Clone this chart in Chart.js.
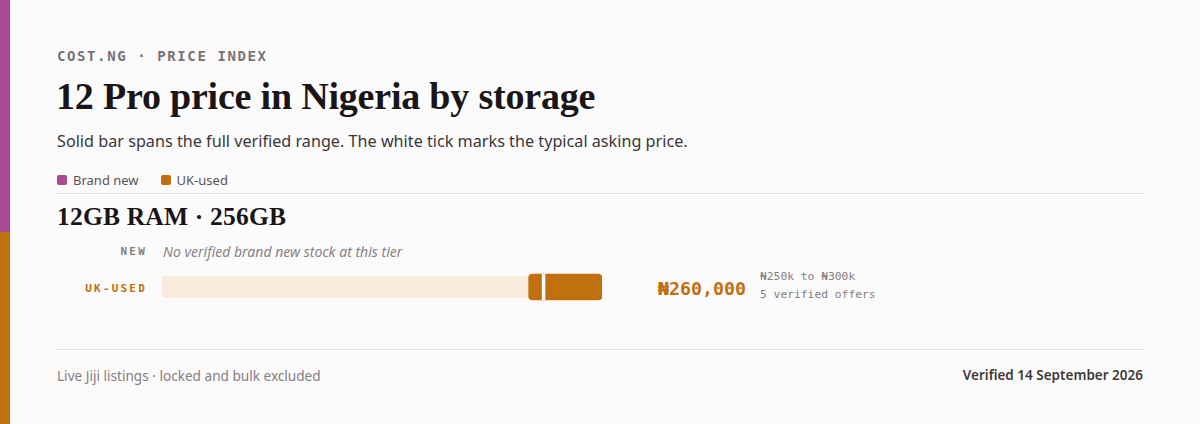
<!DOCTYPE html>
<html>
<head>
<meta charset="utf-8">
<script src="https://cdn.jsdelivr.net/npm/chart.js@4/dist/chart.umd.min.js"></script>
<style>
  html, body { margin: 0; padding: 0; }
  body {
    width: 1200px; height: 424px; overflow: hidden; position: relative;
    background: #fcfbfb; font-family: "Noto Sans", sans-serif;
  }
  .stripe { position: absolute; left: 0; top: 0; width: 10px; height: 424px;
    background: linear-gradient(#a84a8f 0, #a84a8f 232px, #c0700f 232px, #c0700f 100%); }
  .abs { position: absolute; white-space: nowrap; }
  .kicker { left: 57px; top: 48px; font: 600 14px "DejaVu Sans Mono", monospace; letter-spacing: 1.6px; color: #7a7275; }
  .title { left: 56px; top: 74px; font: 700 38px "Liberation Serif", serif; color: #1a1517; letter-spacing: -0.2px; }
  .sub { left: 57px; top: 130px; font: 400 16.2px "Noto Sans", sans-serif; color: #3d3639; }
  .legend { left: 57px; top: 171px; font: 400 13px "Noto Sans", sans-serif; color: #5a5356; display: flex; align-items: center; }
  .legend span.sw { display: inline-block; width: 10px; height: 10px; border-radius: 2px; margin-right: 6px; }
  .legend .item { display: flex; align-items: center; margin-right: 22px; }
  .rule { position: absolute; left: 57px; width: 1086px; height: 1px; background: #e3dfdf; }
  .tier { left: 57px; top: 202px; font: 700 25.5px "Liberation Serif", serif; color: #1a1517; letter-spacing: 0.2px; }
  .rowlab { right: 1053px; font: 700 11px "DejaVu Sans Mono", monospace; letter-spacing: 2.2px; }
  .none { left: 163px; top: 242px; font: italic 400 14px "Noto Sans", sans-serif; color: #8a8285; }
  .price { left: 658px; top: 278px; font: 700 18.3px "DejaVu Sans Mono", monospace; color: #c0700f; }
  .meta { left: 760px; font: 400 11.3px "DejaVu Sans Mono", monospace; color: #857d80; }
  .foot { top: 366px; font: 400 13.6px "Noto Sans", sans-serif; color: #857d80; }
  #wrap { position: absolute; left: 162px; top: 272px; width: 440px; height: 30px; }
</style>
</head>
<body>
<div class="stripe"></div>
<div class="abs kicker">COST.NG · PRICE INDEX</div>
<div class="abs title">12 Pro price in Nigeria by storage</div>
<div class="abs sub">Solid bar spans the full verified range. The white tick marks the typical asking price.</div>
<div class="abs legend" id="legend"></div>
<div class="rule" style="top:193px"></div>
<div class="abs tier" id="tier"></div>
<div class="abs rowlab" style="top:245px;color:#857d80">NEW</div>
<div class="abs none">No verified brand new stock at this tier</div>
<div class="abs rowlab" style="top:282px;color:#c0700f">UK-USED</div>
<div id="wrap"><canvas id="rangeChart"></canvas></div>
<div class="abs price" id="price"></div>
<div class="abs meta" id="meta1" style="top:270px"></div>
<div class="abs meta" id="meta2" style="top:288px"></div>
<div class="rule" style="top:349px"></div>
<div class="abs foot" style="left:57px">Live Jiji listings · locked and bulk excluded</div>
<div class="abs foot" style="right:57px;font-weight:600;color:#3f393b;font-size:13.5px">Verified 14 September 2026</div>

<script>
// data
const tier = "12GB RAM · 256GB";
const conditions = ["Brand new", "UK-used"];
const colors = ["#a84a8f", "#c0700f"];
const rangeLow = [null, 250000];
const rangeHigh = [null, 300000];
const typical = [null, 260000];
const offers = [0, 5];
const axisMax = 300000;

document.getElementById("tier").innerText = tier;

const legend = document.getElementById("legend");
conditions.forEach((c, i) => {
  legend.innerHTML += `<div class="item"><span class="sw" style="background:${colors[i]}"></span>${c}</div>`;
});

function naira(v) { return "₦" + v.toLocaleString("en-US"); }
function nairaK(v) { return "₦" + (v / 1000) + "k"; }

document.getElementById("price").innerText = naira(typical[1]);
document.getElementById("meta1").innerText = nairaK(rangeLow[1]) + " to " + nairaK(rangeHigh[1]);
document.getElementById("meta2").innerText = offers[1] + " verified offers";

// white tick at the typical price
const tickPlugin = {
  id: "typicalTick",
  afterDatasetsDraw(chart) {
    const x = chart.scales.x.getPixelForValue(typical[1]);
    const bar = chart.getDatasetMeta(1).data[0];
    const ctx = chart.ctx;
    ctx.save();
    ctx.fillStyle = "#ffffff";
    ctx.fillRect(x - 1.5, bar.y - bar.height / 2, 3.5, bar.height);
    ctx.restore();
  }
};

new Chart(document.getElementById("rangeChart"), {
  type: "bar",
  data: {
    labels: [conditions[1]],
    datasets: [
      {
        data: [[0, axisMax]],
        backgroundColor: "#f8ebdb",
        borderRadius: 3,
        borderSkipped: false,
        barThickness: 21,
        grouped: false,
        order: 2
      },
      {
        data: [[rangeLow[1], rangeHigh[1]]],
        backgroundColor: colors[1],
        borderRadius: 4,
        borderSkipped: false,
        barThickness: 26,
        grouped: false,
        order: 1
      }
    ]
  },
  options: {
    indexAxis: "y",
    responsive: true,
    maintainAspectRatio: false,
    animation: false,
    layout: { padding: 0 },
    plugins: { legend: { display: false }, tooltip: { enabled: false } },
    scales: {
      x: { display: false, min: 0, max: axisMax },
      y: { display: false }
    }
  },
  plugins: [tickPlugin]
});
</script>
</body>
</html>
